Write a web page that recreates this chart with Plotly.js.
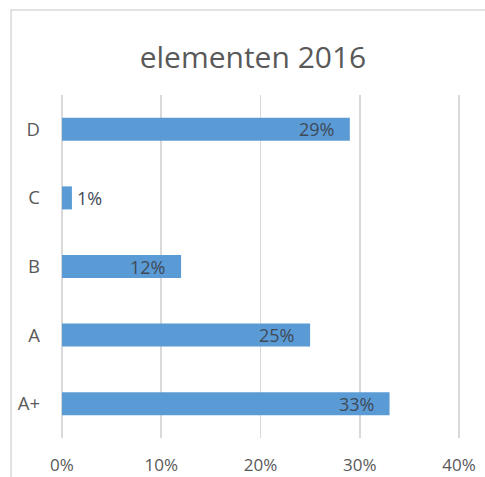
<!DOCTYPE html>
<html><head><meta charset="utf-8">
<script src="https://cdn.plot.ly/plotly-3.0.1.min.js"></script>
<style>html,body{margin:0;padding:0;background:#fff}#c{width:485px;height:477px}</style>
</head><body><div id="c"></div>
<script>
const categories = ["A+", "A", "B", "C", "D"];
const values = [0.33, 0.25, 0.12, 0.01, 0.29];
const labels = ["33%", "25%", "12%", "1%", "29%"];
const xTicks = [0, 0.1, 0.2, 0.3, 0.4];
const xTickLabels = ["0%", "10%", "20%", "30%", "40%"];
const insideLabel = [true, true, true, false, true];

const font = "'Open Sans', 'Noto Sans', sans-serif";
const annotations = categories.map((c, i) => ({
  x: values[i], y: c, xref: 'x', yref: 'y',
  text: labels[i], showarrow: false,
  xanchor: insideLabel[i] ? 'right' : 'left',
  xshift: insideLabel[i] ? -14 : 3,
  font: {family: font, size: 18, color: '#3f4a58'}
}));

Plotly.newPlot('c', [{
  type: 'bar', orientation: 'h', x: values, y: categories,
  marker: {color: '#5B9BD5'}, hoverinfo: 'none'
}], {
  width: 485, height: 477,
  margin: {l: 60, r: 24, t: 95, b: 39},
  paper_bgcolor: '#fff', plot_bgcolor: '#fff',
  bargap: 0.664,
  showlegend: false,
  title: {text: 'elementen 2016', font: {family: font, size: 30, color: '#595959'},
          x: 0.5216, xref: 'container', xanchor: 'center', y: 0.8805, yref: 'container', yanchor: 'middle'},
  xaxis: {range: [-0.002, 0.402], tickvals: xTicks, ticktext: xTickLabels, showgrid: true,
          gridcolor: '#d9d9d9', gridwidth: 1.5, zeroline: false, showline: false, ticks: '',
          ticklabelstandoff: 15, tickfont: {family: font, size: 17, color: '#595959'}, fixedrange: true},
  yaxis: {type: 'category', categoryorder: 'array', categoryarray: categories, range: [-0.5, 4.5],
          showgrid: false, zeroline: false, showline: false, ticks: '', ticklabelstandoff: 19,
          tickfont: {family: font, size: 18.5, color: '#595959'}, fixedrange: true},
  annotations: annotations,
  shapes: [{type: 'rect', xref: 'paper', yref: 'paper', x0: -0.122, x1: 1.3, y0: -0.3, y1: 1.2478,
            line: {color: '#d9d9d9', width: 1.5}, fillcolor: 'rgba(0,0,0,0)', layer: 'below'}]
}, {staticPlot: true});
</script></body></html>
